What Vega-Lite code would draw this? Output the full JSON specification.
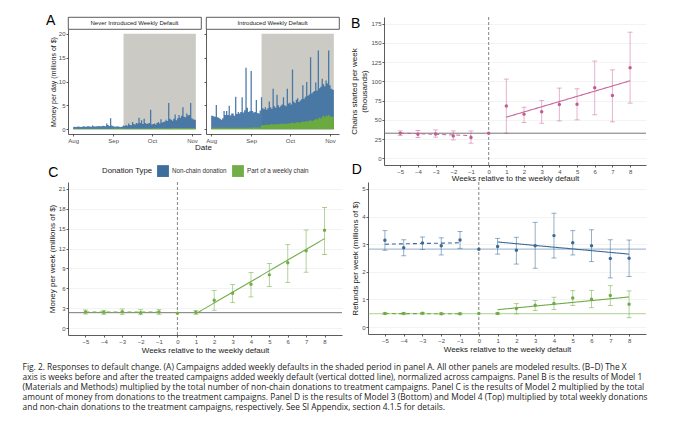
{
  "$schema": "https://vega.github.io/schema/vega-lite/v6.json",
  "padding": {"left": 22, "top": 13, "right": 0, "bottom": 0},
  "title": {
    "text": [
      "Fig. 2.    Responses to default change. (A) Campaigns added weekly defaults in the shaded period in panel A. All other panels are modeled results. (B–D) The X",
      "axis is weeks before and after the treated campaigns added weekly default (vertical dotted line), normalized across campaigns. Panel B is the results of Model 1",
      "(Materials and Methods) multiplied by the total number of non-chain donations to treatment campaigns. Panel C is the results of Model 2 multiplied by the total",
      "amount of money from donations to the treatment campaigns. Panel D is the results of Model 3 (Bottom) and Model 4 (Top) multiplied by total weekly donations",
      "and non-chain donations to the treatment campaigns, respectively. See SI Appendix, section 4.1.5 for details."
    ],
    "orient": "bottom",
    "anchor": "start",
    "frame": "bounds",
    "dx": -23,
    "offset": 9,
    "font": "Open Sans",
    "fontSize": 8.4,
    "lineHeight": 10,
    "fontWeight": "normal",
    "color": "#222"
  },
  "datasets": {
    "never": [
      {"d": "2021-08-01", "t": 0.45, "c": 0.12}, {"d": "2021-08-02", "t": 0.5, "c": 0.12}, {"d": "2021-08-03", "t": 0.45, "c": 0.12}, {"d": "2021-08-04", "t": 0.5, "c": 0.12},
      {"d": "2021-08-05", "t": 0.55, "c": 0.12}, {"d": "2021-08-06", "t": 0.5, "c": 0.12}, {"d": "2021-08-07", "t": 0.45, "c": 0.12}, {"d": "2021-08-08", "t": 0.5, "c": 0.12},
      {"d": "2021-08-09", "t": 0.6, "c": 0.12}, {"d": "2021-08-10", "t": 0.55, "c": 0.12}, {"d": "2021-08-11", "t": 0.5, "c": 0.12}, {"d": "2021-08-12", "t": 0.6, "c": 0.12},
      {"d": "2021-08-13", "t": 0.65, "c": 0.12}, {"d": "2021-08-14", "t": 0.55, "c": 0.12}, {"d": "2021-08-15", "t": 0.5, "c": 0.12}, {"d": "2021-08-16", "t": 0.8, "c": 0.12},
      {"d": "2021-08-17", "t": 0.6, "c": 0.12}, {"d": "2021-08-18", "t": 0.55, "c": 0.12}, {"d": "2021-08-19", "t": 0.6, "c": 0.12}, {"d": "2021-08-20", "t": 0.65, "c": 0.12},
      {"d": "2021-08-21", "t": 0.7, "c": 0.12}, {"d": "2021-08-22", "t": 0.6, "c": 0.12}, {"d": "2021-08-23", "t": 0.6, "c": 0.12}, {"d": "2021-08-24", "t": 0.75, "c": 0.12},
      {"d": "2021-08-25", "t": 0.7, "c": 0.12}, {"d": "2021-08-26", "t": 0.65, "c": 0.12}, {"d": "2021-08-27", "t": 1.2, "c": 0.12}, {"d": "2021-08-28", "t": 0.9, "c": 0.12},
      {"d": "2021-08-29", "t": 0.7, "c": 0.12}, {"d": "2021-08-30", "t": 2.3, "c": 0.12}, {"d": "2021-08-31", "t": 0.8, "c": 0.12},
      {"d": "2021-09-01", "t": 0.6, "c": 0.13}, {"d": "2021-09-02", "t": 0.55, "c": 0.13}, {"d": "2021-09-03", "t": 0.5, "c": 0.13}, {"d": "2021-09-04", "t": 0.6, "c": 0.13},
      {"d": "2021-09-05", "t": 0.55, "c": 0.13}, {"d": "2021-09-06", "t": 0.5, "c": 0.13}, {"d": "2021-09-07", "t": 0.45, "c": 0.13}, {"d": "2021-09-08", "t": 0.55, "c": 0.13},
      {"d": "2021-09-09", "t": 0.8, "c": 0.16}, {"d": "2021-09-10", "t": 0.7, "c": 0.16}, {"d": "2021-09-11", "t": 0.9, "c": 0.16}, {"d": "2021-09-12", "t": 0.75, "c": 0.16},
      {"d": "2021-09-13", "t": 1.2, "c": 0.16}, {"d": "2021-09-14", "t": 0.9, "c": 0.16}, {"d": "2021-09-15", "t": 0.85, "c": 0.16}, {"d": "2021-09-16", "t": 1.5, "c": 0.16},
      {"d": "2021-09-17", "t": 1.1, "c": 0.16}, {"d": "2021-09-18", "t": 1.0, "c": 0.16}, {"d": "2021-09-19", "t": 1.3, "c": 0.16}, {"d": "2021-09-20", "t": 1.2, "c": 0.16},
      {"d": "2021-09-21", "t": 2.4, "c": 0.16}, {"d": "2021-09-22", "t": 1.3, "c": 0.16}, {"d": "2021-09-23", "t": 1.9, "c": 0.16}, {"d": "2021-09-24", "t": 1.1, "c": 0.16},
      {"d": "2021-09-25", "t": 2.2, "c": 0.16}, {"d": "2021-09-26", "t": 1.3, "c": 0.16}, {"d": "2021-09-27", "t": 1.1, "c": 0.16}, {"d": "2021-09-28", "t": 1.2, "c": 0.16},
      {"d": "2021-09-29", "t": 1.3, "c": 0.16}, {"d": "2021-09-30", "t": 4.1, "c": 0.16},
      {"d": "2021-10-01", "t": 1.0, "c": 0.2}, {"d": "2021-10-02", "t": 1.1, "c": 0.2}, {"d": "2021-10-03", "t": 1.2, "c": 0.2}, {"d": "2021-10-04", "t": 1.0, "c": 0.2},
      {"d": "2021-10-05", "t": 1.3, "c": 0.2}, {"d": "2021-10-06", "t": 1.5, "c": 0.2}, {"d": "2021-10-07", "t": 1.2, "c": 0.2}, {"d": "2021-10-08", "t": 2.1, "c": 0.2},
      {"d": "2021-10-09", "t": 1.4, "c": 0.2}, {"d": "2021-10-10", "t": 1.5, "c": 0.2}, {"d": "2021-10-11", "t": 1.6, "c": 0.2}, {"d": "2021-10-12", "t": 2.0, "c": 0.2},
      {"d": "2021-10-13", "t": 1.7, "c": 0.2}, {"d": "2021-10-14", "t": 5.5, "c": 0.2}, {"d": "2021-10-15", "t": 2.2, "c": 0.2}, {"d": "2021-10-16", "t": 2.0, "c": 0.25},
      {"d": "2021-10-17", "t": 1.8, "c": 0.25}, {"d": "2021-10-18", "t": 2.2, "c": 0.25}, {"d": "2021-10-19", "t": 3.1, "c": 0.25}, {"d": "2021-10-20", "t": 1.9, "c": 0.25},
      {"d": "2021-10-21", "t": 2.3, "c": 0.25}, {"d": "2021-10-22", "t": 3.0, "c": 0.25}, {"d": "2021-10-23", "t": 2.4, "c": 0.25}, {"d": "2021-10-24", "t": 2.8, "c": 0.25},
      {"d": "2021-10-25", "t": 4.6, "c": 0.25}, {"d": "2021-10-26", "t": 2.6, "c": 0.25}, {"d": "2021-10-27", "t": 2.5, "c": 0.25}, {"d": "2021-10-28", "t": 3.3, "c": 0.25},
      {"d": "2021-10-29", "t": 2.9, "c": 0.25}, {"d": "2021-10-30", "t": 3.0, "c": 0.25}, {"d": "2021-10-31", "t": 5.5, "c": 0.25},
      {"d": "2021-11-01", "t": 2.3, "c": 0.25}, {"d": "2021-11-02", "t": 2.1, "c": 0.25}, {"d": "2021-11-03", "t": 2.0, "c": 0.25}, {"d": "2021-11-04", "t": 2.0, "c": 0.25}
    ],
    "intro": [
      {"d": "2021-08-01", "t": 2.8, "c": 0.3}, {"d": "2021-08-02", "t": 2.8, "c": 0.3}, {"d": "2021-08-03", "t": 2.7, "c": 0.3}, {"d": "2021-08-04", "t": 2.6, "c": 0.3},
      {"d": "2021-08-05", "t": 5.1, "c": 0.3}, {"d": "2021-08-06", "t": 2.5, "c": 0.3}, {"d": "2021-08-07", "t": 2.4, "c": 0.3}, {"d": "2021-08-08", "t": 2.2, "c": 0.3},
      {"d": "2021-08-09", "t": 2.0, "c": 0.3}, {"d": "2021-08-10", "t": 2.3, "c": 0.3}, {"d": "2021-08-11", "t": 3.8, "c": 0.3}, {"d": "2021-08-12", "t": 3.0, "c": 0.3},
      {"d": "2021-08-13", "t": 3.8, "c": 0.3}, {"d": "2021-08-14", "t": 3.0, "c": 0.3}, {"d": "2021-08-15", "t": 4.9, "c": 0.3}, {"d": "2021-08-16", "t": 2.9, "c": 0.3},
      {"d": "2021-08-17", "t": 3.3, "c": 0.3}, {"d": "2021-08-18", "t": 3.3, "c": 0.3}, {"d": "2021-08-19", "t": 2.8, "c": 0.3}, {"d": "2021-08-20", "t": 6.8, "c": 0.3},
      {"d": "2021-08-21", "t": 3.2, "c": 0.3}, {"d": "2021-08-22", "t": 3.6, "c": 0.3}, {"d": "2021-08-23", "t": 3.3, "c": 0.3}, {"d": "2021-08-24", "t": 3.6, "c": 0.3},
      {"d": "2021-08-25", "t": 6.7, "c": 0.3}, {"d": "2021-08-26", "t": 3.5, "c": 0.3}, {"d": "2021-08-27", "t": 4.0, "c": 0.3}, {"d": "2021-08-28", "t": 12.9, "c": 0.3},
      {"d": "2021-08-29", "t": 4.5, "c": 0.3}, {"d": "2021-08-30", "t": 3.6, "c": 0.3}, {"d": "2021-08-31", "t": 3.8, "c": 0.3},
      {"d": "2021-09-01", "t": 12.2, "c": 0.35}, {"d": "2021-09-02", "t": 3.8, "c": 0.35}, {"d": "2021-09-03", "t": 3.5, "c": 0.35}, {"d": "2021-09-04", "t": 3.6, "c": 0.35},
      {"d": "2021-09-05", "t": 6.1, "c": 0.35}, {"d": "2021-09-06", "t": 3.4, "c": 0.35}, {"d": "2021-09-07", "t": 3.3, "c": 0.35}, {"d": "2021-09-08", "t": 3.9, "c": 0.35},
      {"d": "2021-09-09", "t": 6.7, "c": 0.8}, {"d": "2021-09-10", "t": 4.4, "c": 0.9}, {"d": "2021-09-11", "t": 4.2, "c": 0.85}, {"d": "2021-09-12", "t": 4.6, "c": 0.9},
      {"d": "2021-09-13", "t": 4.1, "c": 1.0}, {"d": "2021-09-14", "t": 4.4, "c": 0.9}, {"d": "2021-09-15", "t": 5.8, "c": 0.95}, {"d": "2021-09-16", "t": 4.6, "c": 1.0},
      {"d": "2021-09-17", "t": 4.3, "c": 1.1}, {"d": "2021-09-18", "t": 8.5, "c": 1.0}, {"d": "2021-09-19", "t": 4.8, "c": 1.05}, {"d": "2021-09-20", "t": 4.5, "c": 1.0},
      {"d": "2021-09-21", "t": 7.2, "c": 1.1}, {"d": "2021-09-22", "t": 5.0, "c": 1.05}, {"d": "2021-09-23", "t": 4.6, "c": 1.1}, {"d": "2021-09-24", "t": 4.9, "c": 1.2},
      {"d": "2021-09-25", "t": 5.2, "c": 1.1}, {"d": "2021-09-26", "t": 6.7, "c": 1.15}, {"d": "2021-09-27", "t": 5.0, "c": 1.2}, {"d": "2021-09-28", "t": 4.8, "c": 1.1},
      {"d": "2021-09-29", "t": 8.5, "c": 1.2}, {"d": "2021-09-30", "t": 5.4, "c": 1.25},
      {"d": "2021-10-01", "t": 5.6, "c": 1.2}, {"d": "2021-10-02", "t": 5.2, "c": 1.3}, {"d": "2021-10-03", "t": 12.5, "c": 1.4}, {"d": "2021-10-04", "t": 5.8, "c": 1.25},
      {"d": "2021-10-05", "t": 5.5, "c": 1.3}, {"d": "2021-10-06", "t": 6.2, "c": 1.4}, {"d": "2021-10-07", "t": 6.5, "c": 1.5}, {"d": "2021-10-08", "t": 5.7, "c": 1.35},
      {"d": "2021-10-09", "t": 6.0, "c": 1.4}, {"d": "2021-10-10", "t": 6.3, "c": 1.5}, {"d": "2021-10-11", "t": 9.2, "c": 1.6}, {"d": "2021-10-12", "t": 6.4, "c": 1.5},
      {"d": "2021-10-13", "t": 6.8, "c": 1.6}, {"d": "2021-10-14", "t": 9.9, "c": 1.7}, {"d": "2021-10-15", "t": 7.0, "c": 1.6}, {"d": "2021-10-16", "t": 7.3, "c": 1.8},
      {"d": "2021-10-17", "t": 15.1, "c": 1.9}, {"d": "2021-10-18", "t": 7.5, "c": 1.7}, {"d": "2021-10-19", "t": 7.8, "c": 1.8}, {"d": "2021-10-20", "t": 8.0, "c": 2.0},
      {"d": "2021-10-21", "t": 9.8, "c": 2.2}, {"d": "2021-10-22", "t": 8.1, "c": 2.0}, {"d": "2021-10-23", "t": 16.5, "c": 2.3}, {"d": "2021-10-24", "t": 8.6, "c": 2.4},
      {"d": "2021-10-25", "t": 8.9, "c": 2.2}, {"d": "2021-10-26", "t": 10.6, "c": 2.6}, {"d": "2021-10-27", "t": 9.4, "c": 2.8}, {"d": "2021-10-28", "t": 9.0, "c": 2.5},
      {"d": "2021-10-29", "t": 10.2, "c": 2.9}, {"d": "2021-10-30", "t": 9.6, "c": 2.7}, {"d": "2021-10-31", "t": 16.5, "c": 3.0},
      {"d": "2021-11-01", "t": 9.2, "c": 2.7}, {"d": "2021-11-02", "t": 8.5, "c": 2.6}, {"d": "2021-11-03", "t": 8.3, "c": 2.6}, {"d": "2021-11-04", "t": 8.2, "c": 2.5}
    ]
  },
  "vconcat": [
    {
      "hconcat": [
        {
          "columns": 2,
          "bounds": "flush",
          "spacing": {"row": 0, "column": 5},
          "title": {"text": "Date", "orient": "bottom", "anchor": "middle", "frame": "bounds", "fontSize": 8, "offset": 1, "dx": 11, "color": "#1a1a1a"},
          "concat": [
            {
              "title": {"text": "A", "offset": -11, "dx": -22},
              "width": 133, "height": 12,
              "view": {"stroke": "#333", "strokeWidth": 0.8, "fill": "#fff"},
              "data": {"values": [{"lab": "Never Introduced Weekly Default"}]},
              "mark": {"type": "text", "fontSize": 6, "color": "#1a1a1a"},
              "encoding": {"text": {"field": "lab", "type": "nominal"}}
            },
            {
              "width": 133, "height": 12,
              "view": {"stroke": "#333", "strokeWidth": 0.8, "fill": "#fff"},
              "data": {"values": [{"lab": "Introduced Weekly Default"}]},
              "mark": {"type": "text", "fontSize": 6, "color": "#1a1a1a"},
              "encoding": {"text": {"field": "lab", "type": "nominal"}}
            },
            {
              "width": 133, "height": 105,
              "layer": [
                {
                  "data": {"values": [{"s": "2021-09-09", "e": "2021-11-04", "lo": 0, "hi": 20}]},
                  "mark": {"type": "rect", "color": "#cbcac5"},
                  "encoding": {
                    "x": {"field": "s", "type": "temporal",
                          "scale": {"domain": [{"year": 2021, "month": 7, "date": 28, "utc": true}, {"year": 2021, "month": 11, "date": 8, "utc": true}]},
                          "axis": {"title": null, "format": "%b", "tickCount": {"interval": "month", "step": 1}}},
                    "x2": {"field": "e"},
                    "y": {"field": "lo", "type": "quantitative",
                          "scale": {"domain": [-1, 21], "nice": false},
                          "axis": {"values": [0, 5, 10, 15, 20], "tickCount": 30, "format": "d", "title": "Money per day (millions of $)", "titleFontSize": 7}},
                    "y2": {"field": "hi"}
                  }
                },
                {
                  "data": {"name": "never"},
                  "mark": {"type": "area", "interpolate": "step", "color": "#3b6fa0", "opacity": 0.9},
                  "encoding": {"x": {"field": "d", "type": "temporal"}, "y": {"field": "t", "type": "quantitative"}}
                },
                {
                  "data": {"name": "never"},
                  "mark": {"type": "area", "interpolate": "step", "color": "#6aaa3e"},
                  "encoding": {"x": {"field": "d", "type": "temporal"}, "y": {"field": "c", "type": "quantitative"}}
                }
              ]
            },
            {
              "width": 133, "height": 105,
              "layer": [
                {
                  "data": {"values": [{"s": "2021-09-09", "e": "2021-11-04", "lo": 0, "hi": 20}]},
                  "mark": {"type": "rect", "color": "#cbcac5"},
                  "encoding": {
                    "x": {"field": "s", "type": "temporal",
                          "scale": {"domain": [{"year": 2021, "month": 7, "date": 28, "utc": true}, {"year": 2021, "month": 11, "date": 8, "utc": true}]},
                          "axis": {"title": null, "format": "%b", "tickCount": {"interval": "month", "step": 1}}},
                    "x2": {"field": "e"},
                    "y": {"field": "lo", "type": "quantitative",
                          "scale": {"domain": [-1, 21], "nice": false},
                          "axis": {"values": [0, 5, 10, 15, 20], "tickCount": 30, "title": null, "labels": false}},
                    "y2": {"field": "hi"}
                  }
                },
                {
                  "data": {"name": "intro"},
                  "mark": {"type": "area", "interpolate": "step", "color": "#3b6fa0", "opacity": 0.9},
                  "encoding": {"x": {"field": "d", "type": "temporal"}, "y": {"field": "t", "type": "quantitative"}}
                },
                {
                  "data": {"name": "intro"},
                  "mark": {"type": "area", "interpolate": "step", "color": "#6aaa3e"},
                  "encoding": {"x": {"field": "d", "type": "temporal"}, "y": {"field": "c", "type": "quantitative"}}
                }
              ]
            }
          ]
        },
        {
          "title": {"text": "B", "offset": -14},
          "width": 262, "height": 148,
          "data": {"values": [
            {"w": -5, "v": 32.6, "lo": 29.6, "hi": 35.6},
            {"w": -4, "v": 31.3, "lo": 27.0, "hi": 36.1},
            {"w": -3, "v": 31.7, "lo": 27.4, "hi": 36.9},
            {"w": -2, "v": 29.0, "lo": 23.9, "hi": 35.6},
            {"w": -1, "v": 27.0, "lo": 19.6, "hi": 35.6},
            {"w": 0, "v": 32.6},
            {"w": 1, "v": 68.0, "lo": 32.6, "hi": 103.0},
            {"w": 2, "v": 57.4, "lo": 46.5, "hi": 66.4},
            {"w": 3, "v": 60.4, "lo": 45.6, "hi": 75.2},
            {"w": 4, "v": 70.0, "lo": 48.6, "hi": 91.3},
            {"w": 5, "v": 70.4, "lo": 50.0, "hi": 90.4},
            {"w": 6, "v": 91.7, "lo": 56.5, "hi": 126.5},
            {"w": 7, "v": 81.7, "lo": 47.4, "hi": 115.0},
            {"w": 8, "v": 117.8, "lo": 71.7, "hi": 164.0}
          ]},
          "layer": [
            {
              "mark": {"type": "rule", "color": "#c8649a", "opacity": 0.55, "strokeWidth": 0.9},
              "encoding": {
                "x": {"field": "w", "type": "quantitative",
                      "scale": {"domain": [-5.92, 8.9], "nice": false, "zero": false},
                      "axis": {"values": [-5, -4, -3, -2, -1, 0, 1, 2, 3, 4, 5, 6, 7, 8], "tickCount": 30, "format": "d", "title": "Weeks relative to the weekly default", "titlePadding": 0}},
                "y": {"field": "lo", "type": "quantitative",
                      "scale": {"domain": [-8.75, 183.75], "nice": false, "zero": false},
                      "axis": {"values": [0, 25, 50, 75, 100, 125, 150, 175], "tickCount": 30, "format": "d", "grid": true, "title": ["Chains started per week", "(thousands)"]}},
                "y2": {"field": "hi"}
              }
            },
            {
              "mark": {"type": "tick", "orient": "horizontal", "size": 5, "thickness": 0.9, "color": "#c8649a", "opacity": 0.55},
              "encoding": {"x": {"field": "w", "type": "quantitative"}, "y": {"field": "lo", "type": "quantitative"}}
            },
            {
              "mark": {"type": "tick", "orient": "horizontal", "size": 5, "thickness": 0.9, "color": "#c8649a", "opacity": 0.55},
              "encoding": {"x": {"field": "w", "type": "quantitative"}, "y": {"field": "hi", "type": "quantitative"}}
            },
            {
              "data": {"values": [{"w": 0}]},
              "mark": {"type": "rule", "color": "#777", "strokeDash": [3, 2], "strokeWidth": 0.9},
              "encoding": {"x": {"field": "w", "type": "quantitative"}}
            },
            {
              "data": {"values": [{"base": 32.6}]},
              "mark": {"type": "rule", "color": "#666", "strokeWidth": 0.9},
              "encoding": {"y": {"field": "base", "type": "quantitative"}}
            },
            {
              "data": {"values": [
                {"seg": "pre", "w": -5, "v": 32.8}, {"seg": "pre", "w": -1, "v": 29.5},
                {"seg": "post", "w": 1, "v": 53.5}, {"seg": "post", "w": 8, "v": 100.8}
              ]},
              "mark": {"type": "line", "color": "#c8649a", "strokeWidth": 1.1},
              "encoding": {
                "x": {"field": "w", "type": "quantitative"},
                "y": {"field": "v", "type": "quantitative"},
                "strokeDash": {"field": "seg", "type": "nominal", "scale": {"domain": ["pre", "post"], "range": [[4, 3], [1, 0]]}, "legend": null}
              }
            },
            {
              "mark": {"type": "circle", "size": 12, "color": "#c25c95", "opacity": 1},
              "encoding": {"x": {"field": "w", "type": "quantitative"}, "y": {"field": "v", "type": "quantitative"}}
            }
          ]
        }
      ],
      "spacing": 10,
      "resolve": {"scale": {"color": "independent", "strokeDash": "independent"}}
    },
    {
      "hconcat": [
        {
          "title": {"text": "C", "offset": -15},
          "width": 274, "height": 153,
          "data": {"values": [
            {"w": -5, "v": 2.42, "lo": 2.12, "hi": 2.73, "type": "Part of a weekly chain"},
            {"w": -4, "v": 2.37, "lo": 2.07, "hi": 2.68, "type": "Part of a weekly chain"},
            {"w": -3, "v": 2.47, "lo": 2.07, "hi": 2.88, "type": "Part of a weekly chain"},
            {"w": -2, "v": 2.32, "lo": 2.02, "hi": 2.78, "type": "Part of a weekly chain"},
            {"w": -1, "v": 2.42, "lo": 2.07, "hi": 2.78, "type": "Part of a weekly chain"},
            {"w": 0, "v": 2.22, "type": "Part of a weekly chain"},
            {"w": 1, "v": 2.37, "lo": 2.07, "hi": 2.63, "type": "Part of a weekly chain"},
            {"w": 2, "v": 4.19, "lo": 2.68, "hi": 5.66, "type": "Part of a weekly chain"},
            {"w": 3, "v": 5.25, "lo": 3.84, "hi": 6.57, "type": "Part of a weekly chain"},
            {"w": 4, "v": 6.62, "lo": 4.7, "hi": 8.38, "type": "Part of a weekly chain"},
            {"w": 5, "v": 8.03, "lo": 6.26, "hi": 9.75, "type": "Part of a weekly chain"},
            {"w": 6, "v": 9.85, "lo": 6.87, "hi": 12.6, "type": "Part of a weekly chain"},
            {"w": 7, "v": 11.67, "lo": 8.43, "hi": 14.8, "type": "Part of a weekly chain"},
            {"w": 8, "v": 14.75, "lo": 11.1, "hi": 18.2, "type": "Part of a weekly chain"}
          ]},
          "layer": [
            {
              "mark": {"type": "rule", "color": "#72ae48", "opacity": 0.6, "strokeWidth": 0.9},
              "encoding": {
                "x": {"field": "w", "type": "quantitative",
                      "scale": {"domain": [-5.95, 8.95], "nice": false, "zero": false},
                      "axis": {"values": [-5, -4, -3, -2, -1, 0, 1, 2, 3, 4, 5, 6, 7, 8], "tickCount": 30, "format": "d", "title": "Weeks relative to the weekly default"}},
                "y": {"field": "lo", "type": "quantitative",
                      "scale": {"domain": [-1.05, 22.05], "nice": false, "zero": false},
                      "axis": {"values": [0, 3, 6, 9, 12, 15, 18, 21], "tickCount": 30, "format": "d", "grid": true, "title": "Money per week (millions of $)"}},
                "y2": {"field": "hi"}
              }
            },
            {
              "mark": {"type": "tick", "orient": "horizontal", "size": 5, "thickness": 0.9, "color": "#72ae48", "opacity": 0.6},
              "encoding": {"x": {"field": "w", "type": "quantitative"}, "y": {"field": "lo", "type": "quantitative"}}
            },
            {
              "mark": {"type": "tick", "orient": "horizontal", "size": 5, "thickness": 0.9, "color": "#72ae48", "opacity": 0.6},
              "encoding": {"x": {"field": "w", "type": "quantitative"}, "y": {"field": "hi", "type": "quantitative"}}
            },
            {
              "data": {"values": [{"w": 0}]},
              "mark": {"type": "rule", "color": "#777", "strokeDash": [3, 2], "strokeWidth": 0.9},
              "encoding": {"x": {"field": "w", "type": "quantitative"}}
            },
            {
              "data": {"values": [{"base": 2.32}]},
              "mark": {"type": "rule", "color": "#666", "strokeWidth": 0.9},
              "encoding": {"y": {"field": "base", "type": "quantitative"}}
            },
            {
              "data": {"values": [
                {"seg": "pre", "w": -5, "v": 2.4}, {"seg": "pre", "w": -1, "v": 2.4},
                {"seg": "post", "w": 1, "v": 2.17}, {"seg": "post", "w": 8, "v": 13.5}
              ]},
              "mark": {"type": "line", "color": "#72ae48", "strokeWidth": 1.1},
              "encoding": {
                "x": {"field": "w", "type": "quantitative"},
                "y": {"field": "v", "type": "quantitative"},
                "strokeDash": {"field": "seg", "type": "nominal", "scale": {"domain": ["pre", "post"], "range": [[4, 3], [1, 0]]}, "legend": null}
              }
            },
            {
              "mark": {"type": "circle", "size": 12, "opacity": 1},
              "encoding": {
                "x": {"field": "w", "type": "quantitative"},
                "y": {"field": "v", "type": "quantitative"},
                "color": {"field": "type", "type": "nominal",
                          "scale": {"domain": ["Non-chain donation", "Part of a weekly chain"], "range": ["#3d6f9e", "#72ae48"]},
                          "legend": {"orient": "top", "direction": "horizontal", "title": "Donation Type", "titleOrient": "left",
                                     "symbolType": "square", "symbolSize": 140, "symbolStrokeWidth": 0, "symbolOpacity": 1,
                                     "labelFontSize": 6.3, "labelColor": "#333", "titleFontSize": 7.8, "titleFontWeight": "normal",
                                     "titleColor": "#222", "titlePadding": 4, "columnPadding": 5, "labelOffset": 3, "offset": 5}}
              }
            }
          ]
        },
        {
          "title": {"text": "D", "offset": 5},
          "width": 278, "height": 152,
          "data": {"values": [
            {"s": "nc", "w": -5, "v": 3.14, "lo": 2.78, "hi": 3.49},
            {"s": "nc", "w": -4, "v": 2.87, "lo": 2.58, "hi": 3.16},
            {"s": "nc", "w": -3, "v": 3.04, "lo": 2.81, "hi": 3.26},
            {"s": "nc", "w": -2, "v": 2.94, "lo": 2.61, "hi": 3.23},
            {"s": "nc", "w": -1, "v": 3.15, "lo": 2.85, "hi": 3.46},
            {"s": "nc", "w": 0, "v": 2.82},
            {"s": "nc", "w": 1, "v": 2.92, "lo": 2.64, "hi": 3.21},
            {"s": "nc", "w": 2, "v": 2.78, "lo": 2.28, "hi": 3.25},
            {"s": "nc", "w": 3, "v": 2.94, "lo": 2.13, "hi": 3.79},
            {"s": "nc", "w": 4, "v": 3.31, "lo": 2.5, "hi": 4.12},
            {"s": "nc", "w": 5, "v": 3.05, "lo": 2.61, "hi": 3.49},
            {"s": "nc", "w": 6, "v": 2.94, "lo": 2.37, "hi": 3.52},
            {"s": "nc", "w": 7, "v": 2.48, "lo": 1.78, "hi": 3.16},
            {"s": "nc", "w": 8, "v": 2.49, "lo": 1.83, "hi": 3.15},
            {"s": "ch", "w": -5, "v": 0.49, "lo": 0.46, "hi": 0.52},
            {"s": "ch", "w": -4, "v": 0.49, "lo": 0.46, "hi": 0.52},
            {"s": "ch", "w": -3, "v": 0.5, "lo": 0.47, "hi": 0.53},
            {"s": "ch", "w": -2, "v": 0.48, "lo": 0.45, "hi": 0.51},
            {"s": "ch", "w": -1, "v": 0.48, "lo": 0.45, "hi": 0.51},
            {"s": "ch", "w": 0, "v": 0.49},
            {"s": "ch", "w": 1, "v": 0.49, "lo": 0.46, "hi": 0.52},
            {"s": "ch", "w": 2, "v": 0.67, "lo": 0.48, "hi": 0.85},
            {"s": "ch", "w": 3, "v": 0.79, "lo": 0.6, "hi": 0.96},
            {"s": "ch", "w": 4, "v": 0.85, "lo": 0.64, "hi": 1.08},
            {"s": "ch", "w": 5, "v": 1.05, "lo": 0.78, "hi": 1.32},
            {"s": "ch", "w": 6, "v": 1.01, "lo": 0.7, "hi": 1.33},
            {"s": "ch", "w": 7, "v": 1.14, "lo": 0.78, "hi": 1.5},
            {"s": "ch", "w": 8, "v": 0.83, "lo": 0.34, "hi": 1.31}
          ]},
          "layer": [
            {
              "mark": {"type": "rule", "opacity": 0.6, "strokeWidth": 0.9},
              "encoding": {
                "x": {"field": "w", "type": "quantitative",
                      "scale": {"domain": [-5.9, 8.9], "nice": false, "zero": false},
                      "axis": {"values": [-5, -4, -3, -2, -1, 0, 1, 2, 3, 4, 5, 6, 7, 8], "tickCount": 30, "format": "d", "title": "Weeks relative to the weekly default"}},
                "y": {"field": "lo", "type": "quantitative",
                      "scale": {"domain": [-0.25, 5.25], "nice": false, "zero": false},
                      "axis": {"values": [0, 1, 2, 3, 4, 5], "tickCount": 30, "format": "d", "grid": true, "title": "Refunds per week (millions of $)"}},
                "y2": {"field": "hi"},
                "color": {"field": "s", "type": "nominal", "scale": {"domain": ["nc", "ch"], "range": ["#3b6a98", "#6fac45"]}, "legend": null}
              }
            },
            {
              "mark": {"type": "tick", "orient": "horizontal", "size": 5, "thickness": 0.9, "opacity": 0.6},
              "encoding": {"x": {"field": "w", "type": "quantitative"}, "y": {"field": "lo", "type": "quantitative"}, "color": {"field": "s", "type": "nominal"}}
            },
            {
              "mark": {"type": "tick", "orient": "horizontal", "size": 5, "thickness": 0.9, "opacity": 0.6},
              "encoding": {"x": {"field": "w", "type": "quantitative"}, "y": {"field": "hi", "type": "quantitative"}, "color": {"field": "s", "type": "nominal"}}
            },
            {
              "data": {"values": [{"w": 0}]},
              "mark": {"type": "rule", "color": "#777", "strokeDash": [3, 2], "strokeWidth": 0.9},
              "encoding": {"x": {"field": "w", "type": "quantitative"}}
            },
            {
              "data": {"values": [{"s": "nc", "base": 2.82}, {"s": "ch", "base": 0.49}]},
              "mark": {"type": "rule", "strokeWidth": 1.2, "opacity": 0.45},
              "encoding": {"y": {"field": "base", "type": "quantitative"}, "color": {"field": "s", "type": "nominal"}}
            },
            {
              "data": {"values": [
                {"s": "nc", "seg": "pre", "w": -5, "v": 3.0}, {"s": "nc", "seg": "pre", "w": -1, "v": 3.05},
                {"s": "nc", "seg": "post", "w": 1, "v": 3.08}, {"s": "nc", "seg": "post", "w": 8, "v": 2.64},
                {"s": "ch", "seg": "pre", "w": -5, "v": 0.49}, {"s": "ch", "seg": "pre", "w": -1, "v": 0.48},
                {"s": "ch", "seg": "post", "w": 1, "v": 0.63}, {"s": "ch", "seg": "post", "w": 8, "v": 1.09}
              ]},
              "mark": {"type": "line", "strokeWidth": 1.1},
              "encoding": {
                "x": {"field": "w", "type": "quantitative"},
                "y": {"field": "v", "type": "quantitative"},
                "color": {"field": "s", "type": "nominal"},
                "strokeDash": {"field": "seg", "type": "nominal", "scale": {"domain": ["pre", "post"], "range": [[4, 3], [1, 0]]}, "legend": null}
              }
            },
            {
              "mark": {"type": "circle", "size": 12, "opacity": 1},
              "encoding": {"x": {"field": "w", "type": "quantitative"}, "y": {"field": "v", "type": "quantitative"}, "color": {"field": "s", "type": "nominal"}}
            }
          ]
        }
      ],
      "spacing": 8,
      "resolve": {"scale": {"color": "independent", "strokeDash": "independent"}}
    }
  ],
  "spacing": -20,
  "resolve": {"scale": {"color": "independent", "strokeDash": "independent"}},
  "config": {
    "font": "Liberation Sans",
    "view": {"stroke": null},
    "axis": {
      "labelFontSize": 6, "labelColor": "#4d4d4d", "titleFontSize": 8, "titleFontWeight": "normal", "titleColor": "#1a1a1a",
      "domainColor": "#333", "domainWidth": 0.8, "tickColor": "#333", "tickWidth": 0.8, "tickSize": 2,
      "labelPadding": 1, "titlePadding": 2, "labelOverlap": false, "labelFlush": false,
      "grid": false, "gridColor": "#ebebeb", "gridWidth": 0.6
    },
    "title": {"fontSize": 14, "fontWeight": "normal", "anchor": "start", "frame": "bounds", "color": "#000"},
    "legend": {"layout": {"top": {"anchor": "middle"}}}
  }
}
